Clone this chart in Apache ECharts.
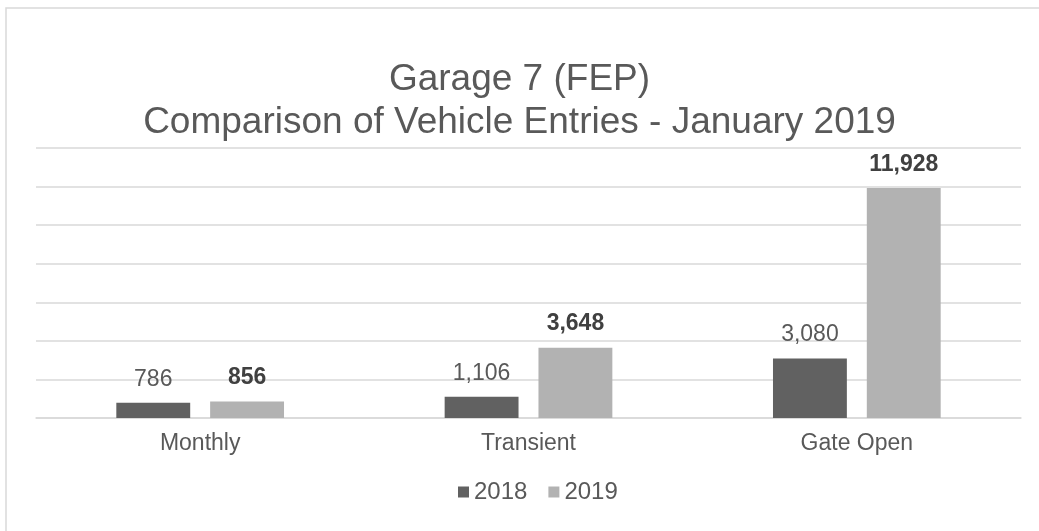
<!DOCTYPE html>
<html>
<head>
<meta charset="utf-8">
<script src="https://cdn.jsdelivr.net/npm/echarts@6/dist/echarts.min.js"></script>
<style>
  html, body { margin: 0; padding: 0; background: #fff; }
  #root { width: 1039px; height: 531px; }
</style>
</head>
<body>
<div id="root"></div>
<script>
// data
var categories = ['Monthly', 'Transient', 'Gate Open'];
var entries2018 = [786, 1106, 3080];
var entries2019 = [856, 3648, 11928];

var dom = document.getElementById('root');
var myChart = echarts.init(dom, null, { renderer: 'canvas' });

var fontFamily = '"Liberation Sans", Arial, sans-serif';
var fmt = function (p) { return p.value.toLocaleString('en-US'); };

var option = {
  backgroundColor: '#ffffff',
  animation: false,
  textStyle: { fontFamily: fontFamily },
  title: {
    text: 'Garage 7 (FEP)\nComparison of Vehicle Entries - January 2019',
    left: 'center',
    top: 53,
    textStyle: {
      fontFamily: fontFamily,
      fontSize: 37,
      lineHeight: 43,
      fontWeight: 'normal',
      color: '#595959'
    }
  },
  graphic: [
    {
      type: 'rect',
      shape: { x: 6, y: 8, width: 1100, height: 600 },
      style: { fill: 'none', stroke: '#d9d9d9', lineWidth: 1.5 },
      silent: true
    }
  ],
  legend: {
    bottom: 22,
    left: 453,
    itemWidth: 11,
    itemHeight: 11,
    itemGap: 21,
    icon: 'rect',
    textStyle: { fontSize: 24, color: '#595959', fontFamily: fontFamily },
    data: ['2018', '2019']
  },
  grid: {
    left: 36,
    right: 18,
    top: 148,
    bottom: 113,
    containLabel: false
  },
  xAxis: {
    type: 'category',
    data: categories,
    axisTick: { show: false },
    axisLine: { lineStyle: { color: '#d9d9d9', width: 1.5 } },
    axisLabel: { fontSize: 23, color: '#595959', margin: 14, fontFamily: fontFamily }
  },
  yAxis: {
    type: 'value',
    min: 0,
    max: 14000,
    interval: 2000,
    axisLabel: { show: false },
    axisLine: { show: false },
    axisTick: { show: false },
    splitLine: { lineStyle: { color: '#d9d9d9', width: 1.5 } }
  },
  series: [
    {
      name: '2018',
      type: 'bar',
      data: entries2018,
      barWidth: '22.5%',
      barGap: '27%',
      itemStyle: { color: '#616161' },
      label: {
        show: true,
        position: 'top',
        distance: 12,
        formatter: fmt,
        fontSize: 23,
        color: '#595959',
        fontFamily: fontFamily
      }
    },
    {
      name: '2019',
      type: 'bar',
      data: entries2019,
      barWidth: '22.5%',
      itemStyle: { color: '#b2b2b2' },
      label: {
        show: true,
        position: 'top',
        distance: 12,
        formatter: fmt,
        fontSize: 23,
        fontWeight: 'bold',
        color: '#404040',
        fontFamily: fontFamily
      }
    }
  ]
};

myChart.setOption(option);
</script>
</body>
</html>
